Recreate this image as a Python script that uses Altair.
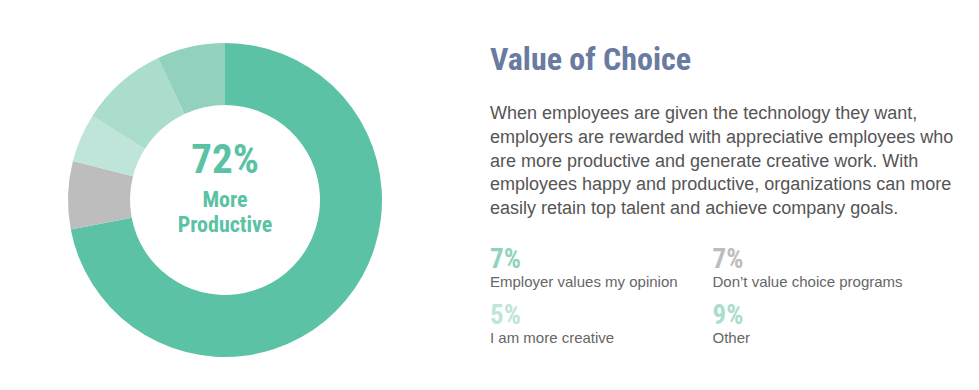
import altair as alt
import pandas as pd

# Donut data (clockwise from 12 o'clock)
slice_names = ["More productive", "Don't value choice programs", "I am more creative", "Other", "Employer values my opinion"]
slice_values = [72, 7, 5, 9, 7]
slice_colors = ["#5BC2A5", "#BDBDBD", "#BFE4D9", "#ABDDCD", "#91D1BD"]

# Legend items (text block on the right)
legend_pcts = ["7%", "7%", "5%", "9%"]
legend_labels = ["Employer values my opinion", "Don\u2019t value choice programs", "I am more creative", "Other"]
legend_colors = ["#91D1BD", "#BDBDBD", "#BFE4D9", "#ABDDCD"]

title_text = "Value of Choice"
body_lines = [
    "When employees are given the technology they want,",
    "employers are rewarded with appreciative employees who",
    "are more productive and generate creative work. With",
    "employees happy and productive, organizations can more",
    "easily retain top talent and achieve company goals.",
]
center_big = "72%"
center_lines = ["More", "Productive"]

W, H = 963, 374
CX, CY = 217, 192
NARROW = "Roboto Condensed, Liberation Sans Narrow, Arial Narrow, sans-serif"
SANS = "Liberation Sans, Arial, Helvetica, sans-serif"

donut_df = pd.DataFrame({
    "name": slice_names,
    "value": slice_values,
    "order": list(range(len(slice_names))),
})

donut = alt.Chart(donut_df).mark_arc(innerRadius=95, outerRadius=157, stroke=None).encode(
    theta=alt.Theta("value:Q", stack=True),
    order=alt.Order("order:Q"),
    color=alt.Color("name:N", scale=alt.Scale(domain=slice_names, range=slice_colors), legend=None),
    x=alt.value(CX),
    y=alt.value(CY),
)

center_df = pd.DataFrame({
    "t": [center_big] + center_lines,
    "px": [CX, CX, CX],
    "py": [165, 199, 224],
    "size": [41, 22, 22],
})
center = alt.Chart(center_df).mark_text(
    font=NARROW, fontWeight="bold", color="#5BC2A5", align="center", baseline="alphabetic"
).encode(
    text="t:N",
    x=alt.X("px:Q", scale=None),
    y=alt.Y("py:Q", scale=None),
    size=alt.Size("size:Q", scale=None, legend=None),
)

title_df = pd.DataFrame({"t": [title_text], "px": [482], "py": [62]})
title = alt.Chart(title_df).mark_text(
    font=NARROW, fontWeight="bold", fontSize=32, color="#6A7BA2", align="left", baseline="alphabetic"
).encode(text="t:N", x=alt.X("px:Q", scale=None), y=alt.Y("py:Q", scale=None))

body_df = pd.DataFrame({
    "t": body_lines,
    "px": [482] * len(body_lines),
    "py": [111 + 23.8 * i for i in range(len(body_lines))],
})
body = alt.Chart(body_df).mark_text(
    font=SANS, fontSize=18, color="#555555", align="left", baseline="alphabetic"
).encode(text="t:N", x=alt.X("px:Q", scale=None), y=alt.Y("py:Q", scale=None))

leg_df = pd.DataFrame({
    "pct": legend_pcts,
    "label": legend_labels,
    "color": legend_colors,
    "px": [482 if i % 2 == 0 else 704.5 for i in range(4)],
    "py": [259.5 + 56 * (i // 2) for i in range(4)],
})
leg_df["py2"] = leg_df["py"] + 19

leg_pct = alt.Chart(leg_df).mark_text(
    font=NARROW, fontWeight="bold", fontSize=27, align="left", baseline="alphabetic"
).encode(
    text="pct:N",
    x=alt.X("px:Q", scale=None),
    y=alt.Y("py:Q", scale=None),
    color=alt.Color("color:N", scale=None),
)
leg_lab = alt.Chart(leg_df).mark_text(
    font=SANS, fontSize=15, color="#666666", align="left", baseline="alphabetic"
).encode(
    text="label:N",
    x=alt.X("px:Q", scale=None),
    y=alt.Y("py2:Q", scale=None),
)

chart = alt.layer(donut, center, title, body, leg_pct, leg_lab).properties(
    width=W, height=H, padding=0, autosize=alt.AutoSizeParams(type="none"),
    background="white",
).configure_view(stroke=None)

chart.save("out.html", embed_options={"renderer": "svg", "actions": False})
